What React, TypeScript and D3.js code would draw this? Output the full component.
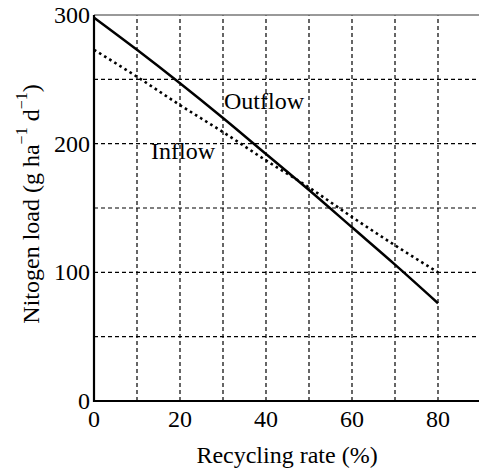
import React from "react";
import * as d3 from "d3";

const recyclingRate = [0, 10, 20, 30, 40, 50, 60, 70, 80];
const outflow = [298, 273, 247, 220, 192, 164, 135, 106, 76];
const inflow = [273, 252, 230, 209, 187, 166, 143, 121, 100];
const xTicks = [0, 20, 40, 60, 80];
const yTicks = [0, 100, 200, 300];
const xGrid = [10, 20, 30, 40, 50, 60, 70, 80, 90];
const yGrid = [50, 100, 150, 200, 250];

const W = 479;
const H = 470;
const FONT = "'Liberation Serif', 'Times New Roman', serif";

export default function App() {
  const x = d3.scaleLinear().domain([0, 90]).range([94, 481]);
  const y = d3.scaleLinear().domain([0, 300]).range([401, 15]);
  const line = d3
    .line<number>()
    .x((_, i) => x(recyclingRate[i]))
    .y((d) => y(d))
    .curve(d3.curveMonotoneX);

  return (
    <svg
      width={W}
      height={H}
      style={{ position: "absolute", left: 0, top: 0, background: "#fff" }}
      fontFamily={FONT}
    >
      <rect x={0} y={0} width={W} height={H} fill="#fff" />
      {/* grid */}
      {xGrid.map((v) => (
        <line
          key={"gx" + v}
          x1={x(v)}
          x2={x(v)}
          y1={y(0)}
          y2={y(300)}
          stroke="#000"
          strokeWidth={1.2}
          strokeDasharray="4,3"
        />
      ))}
      {yGrid.map((v) => (
        <line
          key={"gy" + v}
          x1={x(0)}
          x2={x(90)}
          y1={y(v)}
          y2={y(v)}
          stroke="#000"
          strokeWidth={1.2}
          strokeDasharray="4,3"
        />
      ))}
      {/* top border */}
      <line x1={x(0)} x2={x(90)} y1={y(300)} y2={y(300)} stroke="#777" strokeWidth={1.6} />
      {/* series */}
      <path d={line(inflow) || ""} fill="none" stroke="#000" strokeWidth={2.6} strokeDasharray="2.6,3.4" />
      <path d={line(outflow) || ""} fill="none" stroke="#000" strokeWidth={2.5} />
      {/* axes */}
      <line x1={x(0)} x2={x(0)} y1={y(0) + 1} y2={y(300)} stroke="#000" strokeWidth={2.2} />
      <line x1={x(0) - 1} x2={x(90)} y1={y(0)} y2={y(0)} stroke="#000" strokeWidth={2.2} />
      {/* tick labels */}
      {xTicks.map((v) => (
        <text key={"tx" + v} x={x(v)} y={427} fontSize={24} textAnchor="middle" fill="#000">
          {v}
        </text>
      ))}
      {yTicks.map((v) => (
        <text key={"ty" + v} x={90} y={y(v)} dy="0.33em" fontSize={24} textAnchor="end" fill="#000">
          {v}
        </text>
      ))}
      {/* series labels */}
      <text x={224} y={109} fontSize={24} fill="#000">Outflow</text>
      <text x={151} y={159} fontSize={24} fill="#000">Inflow</text>
      {/* axis titles */}
      <text x={287} y={463} fontSize={24} textAnchor="middle" fill="#000">
        Recycling rate (%)
      </text>
      <text
        transform="translate(39,204) rotate(-90)"
        fontSize={24}
        textAnchor="middle"
        fill="#000"
      >
        Nitogen load (g ha
        <tspan fontSize={16} dy={-12}>{"\u22121"}</tspan>
        <tspan dy={12}> d</tspan>
        <tspan fontSize={16} dy={-12}>{"\u22121"}</tspan>
        <tspan dy={12}>)</tspan>
      </text>
    </svg>
  );
}
